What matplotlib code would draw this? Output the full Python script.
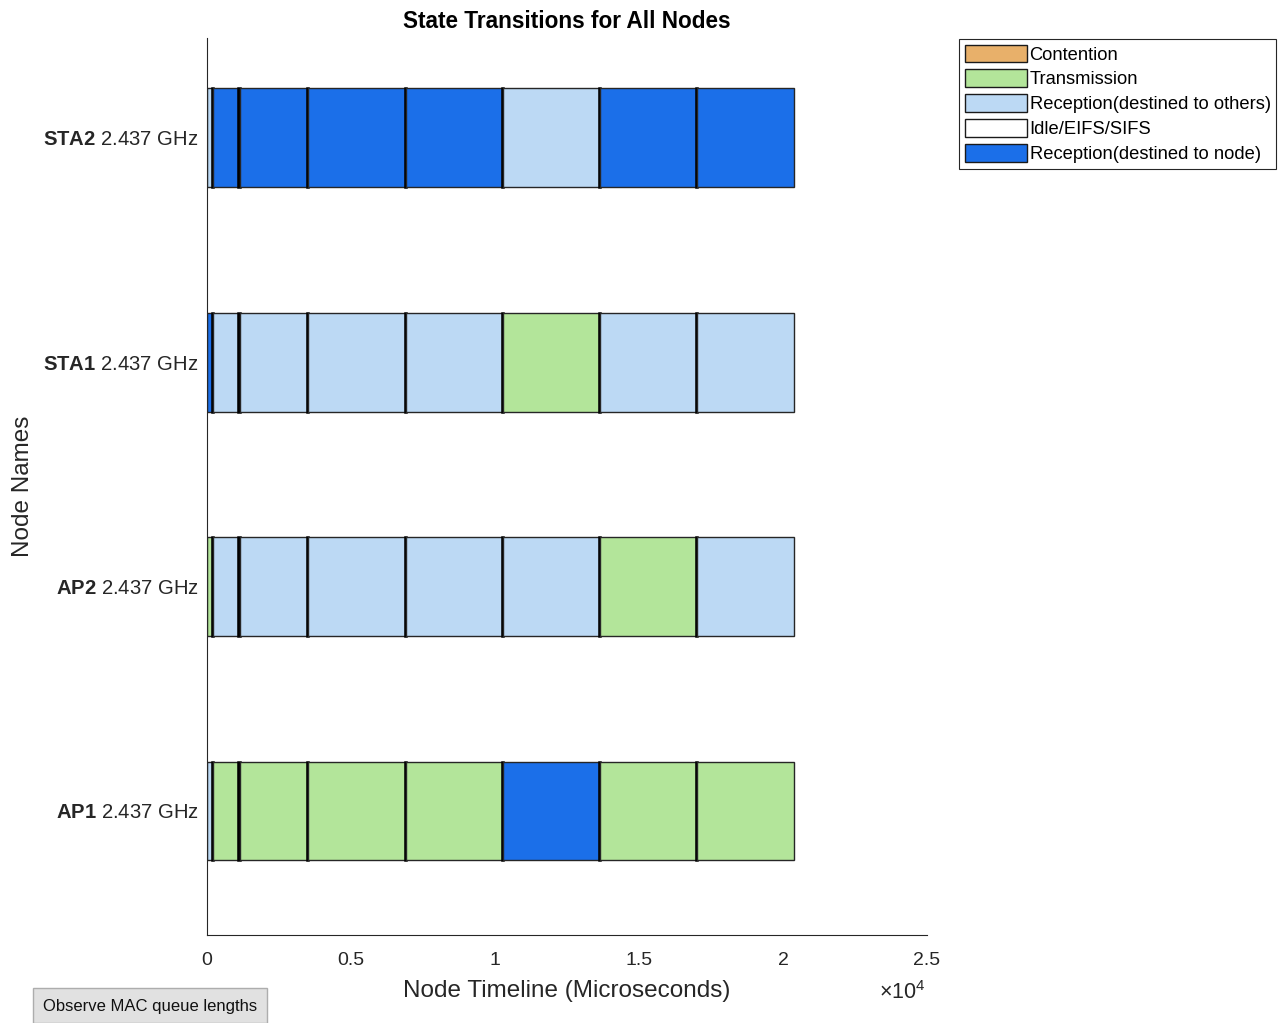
import matplotlib
matplotlib.use('Agg')
import matplotlib.pyplot as plt
from matplotlib.patches import Patch, Rectangle

plt.rcParams['font.family'] = ['Liberation Sans', 'DejaVu Sans']
plt.rcParams['mathtext.fontset'] = 'custom'
plt.rcParams['mathtext.rm'] = 'Liberation Sans'
plt.rcParams['mathtext.bf'] = 'Liberation Sans:bold'

# node names (bottom to top) and frequency
nodes = ['AP1', 'AP2', 'STA1', 'STA2']
freq = '2.437 GHz'

# main segments in microseconds, same timing for every node
seg_start = [0, 210, 1130, 3510, 6910, 10280, 13650, 17020]
seg_end = [160, 1090, 3470, 6870, 10240, 13610, 16980, 20380]

# state of each main segment per node (idle fills the gaps between segments)
states = {
    'AP1':  ['others', 'tx', 'tx', 'tx', 'tx', 'node', 'tx', 'tx'],
    'AP2':  ['tx', 'others', 'others', 'others', 'others', 'others', 'tx', 'others'],
    'STA1': ['node', 'others', 'others', 'others', 'others', 'tx', 'others', 'others'],
    'STA2': ['others', 'node', 'node', 'node', 'node', 'others', 'node', 'node'],
}

state_colors = {
    'contention': '#e8b06a',
    'tx': '#b3e59a',
    'others': '#bcd9f4',
    'idle': '#ffffff',
    'node': '#1b6fe9',
}
legend_order = [('contention', 'Contention'), ('tx', 'Transmission'),
                ('others', 'Reception(destined to others)'), ('idle', 'Idle/EIFS/SIFS'),
                ('node', 'Reception(destined to node)')]

fig = plt.figure(figsize=(12.8, 10.23), dpi=100)
ax = fig.add_axes([207/1280, 88/1023, 720/1280, 897/1023])

bar_h = 0.44
for i, n in enumerate(nodes):
    y = i + 1
    st = states[n]
    for k in range(len(seg_start)):
        ax.barh(y, seg_end[k]-seg_start[k], left=seg_start[k], height=bar_h,
                color=state_colors[st[k]], edgecolor='#262626', linewidth=1.0)
        if k < len(seg_start)-1:
            ax.barh(y, seg_start[k+1]-seg_end[k], left=seg_end[k], height=bar_h,
                    color=state_colors['idle'], edgecolor='#000000', linewidth=1.8)

ax.set_xlim(0, 25000)
ax.set_ylim(0.447, 4.445)
ax.set_xticks([0, 5000, 10000, 15000, 20000, 25000])
ax.set_xticklabels(['0', '0.5', '1', '1.5', '2', '2.5'], fontsize=14, color='#262626')
ax.set_yticks(range(1, len(nodes)+1))
ax.set_yticklabels([r'$\mathbf{%s}$ %s' % (n, freq) for n in nodes], fontsize=14.6, color='#262626')
ax.tick_params(axis='x', direction='in', length=0, pad=12, colors='#262626')
ax.tick_params(axis='y', direction='in', length=0, pad=6, colors='#262626')
for s in ['top', 'right']:
    ax.spines[s].set_visible(False)
for s in ['left', 'bottom']:
    ax.spines[s].set_color('#262626')
    ax.spines[s].set_linewidth(0.8)

ax.set_title('State Transitions for All Nodes', fontsize=16.3, fontweight='bold', pad=7)
ax.set_xlabel('Node Timeline (Microseconds)', fontsize=17.5, color='#262626', labelpad=8)
ax.set_ylabel('Node Names', fontsize=17.5, color='#262626')
ax.yaxis.set_label_coords(-0.24, 0.5)
fig.text(879/1280, 1-993/1023, r'$\times10^{4}$', fontsize=15.5, color='#262626', va='center')

handles = [Patch(facecolor=state_colors[k], edgecolor='#1a1a1a', linewidth=1.0, label=lab)
           for k, lab in legend_order]
leg = fig.legend(handles=handles, loc='upper left', bbox_to_anchor=(959/1280, 1-39/1023),
                 bbox_transform=fig.transFigure, fontsize=13.2, frameon=True, fancybox=False,
                 edgecolor='#262626', framealpha=1, handlelength=3.4, handleheight=1.1,
                 handletextpad=0.15, labelspacing=0.32, borderpad=0.3, borderaxespad=0)
leg.get_frame().set_linewidth(0.8)

# push button in bottom-left corner
fig.patches.append(Rectangle((33/1280, 0), 234/1280, 35/1023, transform=fig.transFigure,
                             facecolor='#e1e1e1', edgecolor='#adadad', linewidth=1.0))
fig.text(150/1280, 1-1006/1023, 'Observe MAC queue lengths', fontsize=12, ha='center',
         va='center', color='#111111')

fig.savefig('out.png', dpi=100)
